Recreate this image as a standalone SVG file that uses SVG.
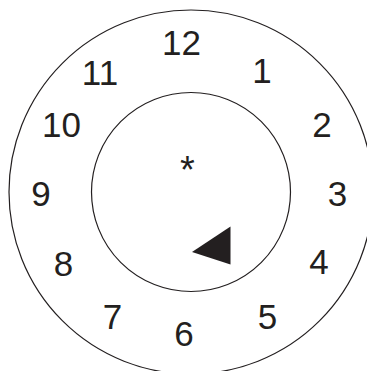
<svg xmlns="http://www.w3.org/2000/svg" width="367" height="371" viewBox="0 0 367 371">
<style>
.ring{fill:none;stroke:#231f20;stroke-width:1.2}
.num{font-family:"Liberation Sans",Arial,sans-serif;font-size:35px;fill:#231f20;text-anchor:middle}
</style>
<rect width="367" height="371" fill="#fff"/>
<g id="dial">
<circle class="ring" cx="191" cy="192" r="182"/>
<circle class="ring" cx="191" cy="192" r="99.5"/>
</g>
<g id="numbers">
<text class="num" x="181.5" y="55">12</text>
<text class="num" x="100" y="85">11</text>
<text class="num" x="262" y="83">1</text>
<text class="num" x="61.5" y="137">10</text>
<text class="num" x="322" y="137">2</text>
<text class="num" x="41" y="206">9</text>
<text class="num" x="337.5" y="206">3</text>
<text class="num" x="63.5" y="276">8</text>
<text class="num" x="319" y="274">4</text>
<text class="num" x="112.5" y="329">7</text>
<text class="num" x="184" y="346">6</text>
<text class="num" x="267.5" y="329">5</text>
</g>
<g id="center">
<text class="num" x="187.5" y="183" style="font-size:38px">*</text>
</g>
<g id="pointer">
<polygon points="192,252 230.5,226.5 230.5,264.5" fill="#231f20"/>
</g>
</svg>
